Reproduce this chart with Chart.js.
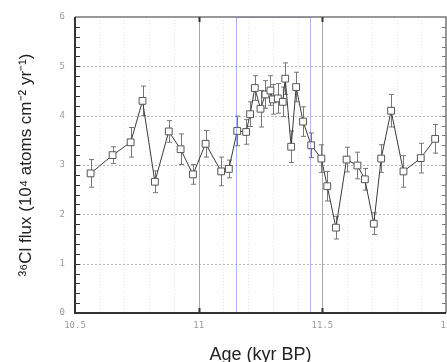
<!DOCTYPE html>
<html>
<head>
<meta charset="utf-8">
<script src="https://cdn.jsdelivr.net/npm/chart.js@4.4.1/dist/chart.umd.min.js"></script>
<style>
  html, body { margin: 0; padding: 0; background: #fff; }
  canvas { display: block; }
</style>
</head>
<body>
<canvas id="chartFlux" width="447" height="362"></canvas>
<script>
// 36Cl flux record, ages in kyr BP
const ages = [10.563, 10.652, 10.725, 10.773, 10.823, 10.879, 10.927, 10.977, 11.028, 11.091,
  11.122, 11.156, 11.192, 11.208, 11.227, 11.25, 11.27, 11.29, 11.30, 11.32,
  11.34, 11.35, 11.374, 11.394, 11.422, 11.455, 11.496, 11.52, 11.555, 11.598,
  11.642, 11.672, 11.708, 11.738, 11.778, 11.828, 11.898, 11.956];
const flux = [2.83, 3.20, 3.46, 4.30, 2.66, 3.68, 3.32, 2.81, 3.43, 2.87,
  2.92, 3.69, 3.67, 4.03, 4.56, 4.14, 4.43, 4.51, 4.33, 4.35,
  4.28, 4.75, 3.37, 4.58, 3.88, 3.40, 3.13, 2.57, 1.73, 3.11,
  2.99, 2.71, 1.81, 3.13, 4.10, 2.87, 3.14, 3.53];
const fluxErr = [0.28, 0.17, 0.30, 0.30, 0.22, 0.22, 0.31, 0.20, 0.27, 0.29,
  0.18, 0.30, 0.25, 0.25, 0.25, 0.37, 0.28, 0.30, 0.30, 0.30,
  0.30, 0.32, 0.32, 0.30, 0.30, 0.25, 0.28, 0.30, 0.23, 0.25,
  0.27, 0.22, 0.22, 0.28, 0.33, 0.32, 0.30, 0.29];

const refAges = [11, 11.5];          // solid reference lines
const boxStart = 11.15;              // highlighted interval
const boxEnd = 11.45;

const monoFont = { family: 'DejaVu Sans Mono', size: 9 };

const decorPlugin = {
  id: 'decor',
  beforeDatasetsDraw(chart) {
    const { ctx, chartArea: a } = chart;
    const xs = chart.scales.x, ys = chart.scales.y;
    ctx.save();

    // faint vertical grid every 0.1 kyr
    ctx.strokeStyle = '#e4e4e4';
    ctx.lineWidth = 1;
    ctx.setLineDash([1, 2]);
    for (let i = 1; i < 15; i++) {
      const px = Math.round(xs.getPixelForValue(10.5 + i * 0.1)) + 0.5;
      ctx.beginPath(); ctx.moveTo(px, a.top); ctx.lineTo(px, a.bottom); ctx.stroke();
    }

    // horizontal dotted grid
    ctx.strokeStyle = '#b8b8b8';
    ctx.setLineDash([2, 2]);
    for (let v = 1; v <= 5; v++) {
      const py = Math.round(ys.getPixelForValue(v)) + 0.5;
      ctx.beginPath(); ctx.moveTo(a.left, py); ctx.lineTo(a.right, py); ctx.stroke();
    }

    // solid reference lines
    ctx.setLineDash([]);
    ctx.strokeStyle = '#a8a8a8';
    refAges.forEach(v => {
      const px = Math.round(xs.getPixelForValue(v)) + 0.5;
      ctx.beginPath(); ctx.moveTo(px, a.top); ctx.lineTo(px, a.bottom); ctx.stroke();
    });

    // error bars
    ctx.strokeStyle = '#777';
    ages.forEach((t, i) => {
      const px = Math.round(xs.getPixelForValue(t)) + 0.5;
      const y1 = ys.getPixelForValue(flux[i] - fluxErr[i]);
      const y2 = ys.getPixelForValue(flux[i] + fluxErr[i]);
      ctx.beginPath();
      ctx.moveTo(px, y1); ctx.lineTo(px, y2);
      ctx.moveTo(px - 2.5, y1); ctx.lineTo(px + 2.5, y1);
      ctx.moveTo(px - 2.5, y2); ctx.lineTo(px + 2.5, y2);
      ctx.stroke();
    });
    ctx.restore();
  },
  afterDatasetsDraw(chart) {
    const { ctx, chartArea: a } = chart;
    const xs = chart.scales.x, ys = chart.scales.y;
    ctx.save();

    // highlighted interval box
    const bx1 = Math.round(xs.getPixelForValue(boxStart)) + 0.5;
    const bx2 = Math.round(xs.getPixelForValue(boxEnd)) + 0.5;
    ctx.strokeStyle = '#4f72d4';
    ctx.lineWidth = 1;
    ctx.setLineDash([1, 1]);
    ctx.strokeRect(bx1, a.top + 0.5, bx2 - bx1, a.bottom - a.top);
    ctx.setLineDash([]);

    // frame
    ctx.strokeStyle = '#777';
    ctx.lineWidth = 1.5;
    ctx.beginPath();
    ctx.moveTo(a.left, a.top); ctx.lineTo(a.right, a.top); ctx.lineTo(a.right, a.bottom);
    ctx.stroke();
    ctx.strokeStyle = '#333';
    ctx.lineWidth = 2;
    ctx.beginPath();
    ctx.moveTo(a.left, a.top); ctx.lineTo(a.left, a.bottom); ctx.lineTo(a.right, a.bottom);
    ctx.stroke();

    // inward minor ticks on the y axes
    ctx.lineWidth = 1;
    for (let i = 1; i < 30; i++) {
      const py = Math.round(ys.getPixelForValue(i * 0.2)) + 0.5;
      ctx.strokeStyle = '#333';
      ctx.beginPath(); ctx.moveTo(a.left, py); ctx.lineTo(a.left + 5, py); ctx.stroke();
      ctx.strokeStyle = '#777';
      ctx.beginPath(); ctx.moveTo(a.right, py); ctx.lineTo(a.right - 4, py); ctx.stroke();
    }

    // x ticks at the reference ages
    ctx.strokeStyle = '#333';
    ctx.lineWidth = 2;
    refAges.forEach(v => {
      const px = Math.round(xs.getPixelForValue(v)) + 0.5;
      ctx.beginPath();
      ctx.moveTo(px, a.bottom); ctx.lineTo(px, a.bottom - 5);
      ctx.moveTo(px, a.top); ctx.lineTo(px, a.top + 5);
      ctx.stroke();
    });
    ctx.restore();
  }
};

const ctx = document.getElementById('chartFlux').getContext('2d');
const chart = new Chart(ctx, {
  type: 'scatter',
  data: {
    datasets: [{
      data: ages.map((t, i) => ({ x: t, y: flux[i] })),
      showLine: true,
      borderColor: '#3a3a3a',
      borderWidth: 1,
      pointStyle: 'rect',
      pointRadius: 4.8,
      pointBackgroundColor: '#fff',
      pointBorderColor: '#555',
      pointBorderWidth: 1
    }]
  },
  options: {
    responsive: false,
    animation: false,
    layout: { autoPadding: false, padding: { top: 17, right: 1, left: 0, bottom: 0 } },
    plugins: {
      legend: { display: false },
      tooltip: { enabled: false }
    },
    scales: {
      x: {
        type: 'linear',
        min: 10.5,
        max: 12,
        grid: { display: false, drawTicks: false },
        border: { display: false },
        ticks: {
          stepSize: 0.5,
          font: monoFont,
          color: '#999',
          padding: 7,
          maxRotation: 0,
          callback: v => String(v)
        },
        title: {
          display: true,
          text: 'Age (kyr BP)',
          color: '#222',
          font: { family: 'Liberation Sans', size: 18, lineHeight: 0.75 },
          padding: { top: 0, bottom: 0 }
        },
        afterFit: s => { s.height = 49; s.paddingLeft = 0; s.paddingRight = 0; }
      },
      y: {
        min: 0,
        max: 6,
        grid: { display: false, drawTicks: false },
        border: { display: false },
        ticks: {
          stepSize: 1,
          font: monoFont,
          color: '#999',
          padding: 10
        },
        title: {
          display: true,
          text: '³⁶Cl flux (10⁴ atoms cm⁻² yr⁻¹)',
          color: '#222',
          font: { family: 'Liberation Sans', size: 17, lineHeight: 1 },
          padding: { top: 18, bottom: 0 }
        },
        afterFit: s => { s.width = 75; s.paddingTop = 0; s.paddingBottom = 0; }
      }
    }
  },
  plugins: [decorPlugin]
});
</script>
</body>
</html>
